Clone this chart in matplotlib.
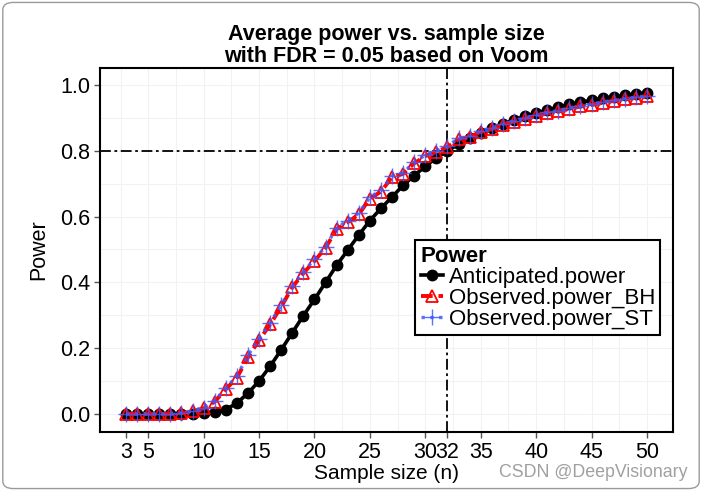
"""
Average power vs. sample size (FDR = 0.05, Voom): anticipated vs observed power.
"""

import numpy as np
import matplotlib.pyplot as plt
from matplotlib.patches import FancyBboxPatch

plt.rcParams["font.family"] = ["Liberation Sans", "DejaVu Sans"]

# ---- Data ----
n = np.arange(3, 51)

anticipated = [0.000, 0.000, 0.000, 0.000, 0.000, 0.000, 0.001, 0.002, 0.005, 0.013,
               0.033, 0.063, 0.100, 0.145, 0.195, 0.247, 0.299, 0.348, 0.400, 0.452,
               0.498, 0.544, 0.588, 0.625, 0.660, 0.695, 0.725, 0.753, 0.779, 0.800,
               0.820, 0.838, 0.855, 0.869, 0.882, 0.894, 0.905, 0.915, 0.924, 0.933,
               0.941, 0.948, 0.954, 0.960, 0.965, 0.969, 0.973, 0.977]

observed_bh = [0.000, 0.000, 0.000, 0.000, 0.000, 0.002, 0.008, 0.017, 0.037, 0.075,
               0.110, 0.172, 0.224, 0.272, 0.326, 0.385, 0.428, 0.465, 0.505, 0.562,
               0.583, 0.607, 0.655, 0.676, 0.720, 0.730, 0.762, 0.784, 0.797, 0.812,
               0.835, 0.842, 0.858, 0.866, 0.880, 0.889, 0.898, 0.906, 0.915, 0.920,
               0.928, 0.935, 0.940, 0.946, 0.952, 0.957, 0.961, 0.966]

observed_st = [0.000, 0.000, 0.000, 0.000, 0.000, 0.003, 0.009, 0.019, 0.040, 0.079,
               0.115, 0.178, 0.228, 0.277, 0.331, 0.389, 0.432, 0.470, 0.509, 0.566,
               0.588, 0.611, 0.659, 0.680, 0.723, 0.734, 0.765, 0.787, 0.800, 0.815,
               0.838, 0.845, 0.861, 0.869, 0.882, 0.891, 0.900, 0.908, 0.917, 0.922,
               0.930, 0.937, 0.942, 0.948, 0.954, 0.959, 0.963, 0.968]

x_ticks = [3, 5, 10, 15, 20, 25, 30, 32, 35, 40, 45, 50]
y_ticks = [0.0, 0.2, 0.4, 0.6, 0.8, 1.0]
target_power = 0.8
target_n = 32

# ---- Plot ----
fig = plt.figure(figsize=(7.02, 4.91), dpi=100)
ax = fig.add_axes([0.1425, 0.1202, 0.8162, 0.7413])

# faint grid (major + minor)
for xv in np.arange(2.5, 52, 2.5):
    ax.axvline(xv, color="#f2f2f2", lw=0.8, zorder=0)
for yv in np.arange(0.0, 1.05, 0.1):
    ax.axhline(yv, color="#f2f2f2", lw=0.8, zorder=0)

ax.plot(n, anticipated, "-o", color="black", lw=2.6, ms=7.5,
        label="Anticipated.power", zorder=3)
ax.plot(n, observed_bh, "--^", color="red", lw=2.8, ms=8.5, mfc="none", mew=1.3,
        dashes=(3, 1.5), label="Observed.power_BH", zorder=4)
ax.plot(n, observed_st, ":+", color="#3b5bff", lw=2.4, ms=12, mew=1.0, alpha=0.85,
        label="Observed.power_ST", zorder=5)

ax.axhline(target_power, color="black", lw=1.3, ls="-.", dashes=(6, 2, 1.5, 2), zorder=2)
ax.axvline(target_n, color="black", lw=1.3, ls="-.", dashes=(6, 2, 1.5, 2), zorder=2)

ax.set_xlim(0.65, 52.35)
ax.set_ylim(-0.055, 1.052)
ax.set_xticks(x_ticks)
ax.set_xticklabels([str(t) for t in x_ticks])
ax.set_yticks(y_ticks)
ax.set_yticklabels([f"{t:.1f}" for t in y_ticks])
ax.tick_params(axis="both", labelsize=15.5, length=4, width=1, color="#555555",
               labelcolor="black", pad=3)

for s in ax.spines.values():
    s.set_linewidth(1.5)
    s.set_color("black")

ax.set_xlabel("Sample size (n)", fontsize=15, labelpad=1)
ax.set_ylabel("Power", fontsize=15.5, labelpad=8)
ax.set_title("Average power vs. sample size\nwith FDR = 0.05 based on Voom",
             fontsize=15.5, fontweight="bold", linespacing=1.1, pad=4)

leg = ax.legend(loc="upper left", bbox_to_anchor=(0.55, 0.527), fontsize=16,
                title="Power", title_fontproperties={"weight": "bold", "size": 16},
                alignment="left", handlelength=1.0, handletextpad=0.25,
                labelspacing=0.0, borderpad=0.25, borderaxespad=0,
                fancybox=False, framealpha=1)
leg.get_frame().set_edgecolor("black")
leg.get_frame().set_linewidth(1.5)

# rounded outer frame and watermark
frame = FancyBboxPatch((0.004, 0.005), 0.992, 0.99, boxstyle="round,pad=0,rounding_size=0.015",
                       transform=fig.transFigure, fill=False, ec="#9a9a9a", lw=1.0)
fig.patches.append(frame)
fig.text(0.98, 0.038, "CSDN @DeepVisionary", ha="right", va="center",
         fontsize=12.8, color="#a0a0a0")

plt.savefig("out.png", dpi=100)
